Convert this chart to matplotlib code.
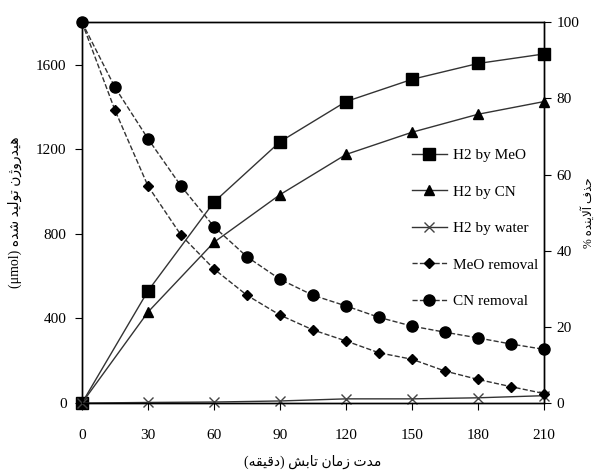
import matplotlib
matplotlib.use('Agg')
import matplotlib.pyplot as plt

# time (min)
t_h2 = [0, 30, 60, 90, 120, 150, 180, 210]
h2_meo = [0, 530, 950, 1235, 1425, 1530, 1605, 1650]
h2_cn = [0, 430, 760, 985, 1175, 1280, 1365, 1425]
h2_water = [0, 3, 5, 10, 20, 20, 25, 35]

t_rem = [0, 15, 30, 45, 60, 75, 90, 105, 120, 135, 150, 165, 180, 195, 210]
meo_removal = [100, 76.9, 57.0, 44.1, 35.2, 28.3, 23.1, 19.2, 16.3, 13.2,
               11.5, 8.4, 6.2, 4.3, 2.5]
cn_removal = [100, 82.9, 69.4, 57.0, 46.3, 38.4, 32.5, 28.3, 25.5, 22.5,
              20.2, 18.6, 17.1, 15.5, 14.1]

xticks = [0, 30, 60, 90, 120, 150, 180, 210]
yticks_left = [0, 400, 800, 1200, 1600]
yticks_right = [0, 20, 40, 60, 80, 100]

xlabel = 'مدت زمان تابش (دقیقه)'
ylabel_left = 'هیدروژن تولید شده'
ylabel_right = 'حذف آلاینده %'

# minimal arabic/persian shaping: isolated, final, initial, medial
FORMS = {
    'ا': ('\uFE8D', '\uFE8E', None, None),
    'آ': ('\uFE81', '\uFE82', None, None),
    'ب': ('\uFE8F', '\uFE90', '\uFE91', '\uFE92'),
    'ت': ('\uFE95', '\uFE96', '\uFE97', '\uFE98'),
    'ح': ('\uFEA1', '\uFEA2', '\uFEA3', '\uFEA4'),
    'د': ('\uFEA9', '\uFEAA', None, None),
    'ذ': ('\uFEAB', '\uFEAC', None, None),
    'ر': ('\uFEAD', '\uFEAE', None, None),
    'ز': ('\uFEAF', '\uFEB0', None, None),
    'ژ': ('\uFB8A', '\uFB8B', None, None),
    'ش': ('\uFEB5', '\uFEB6', '\uFEB7', '\uFEB8'),
    'ف': ('\uFED1', '\uFED2', '\uFED3', '\uFED4'),
    'ق': ('\uFED5', '\uFED6', '\uFED7', '\uFED8'),
    'ل': ('\uFEDD', '\uFEDE', '\uFEDF', '\uFEE0'),
    'م': ('\uFEE1', '\uFEE2', '\uFEE3', '\uFEE4'),
    'ن': ('\uFEE5', '\uFEE6', '\uFEE7', '\uFEE8'),
    'ه': ('\uFEE9', '\uFEEA', '\uFEEB', '\uFEEC'),
    'و': ('\uFEED', '\uFEEE', None, None),
    'ی': ('\uFBFC', '\uFBFD', '\uFBFE', '\uFBFF'),
}
LAM_ALEF = {'ا': ('\uFEFB', '\uFEFC'), 'آ': ('\uFEF5', '\uFEF6')}


def dual(c):
    return c in FORMS and FORMS[c][2] is not None


def rtl(text):
    out = []
    i = 0
    while i < len(text):
        c = text[i]
        prev_j = i > 0 and dual(text[i - 1])
        if c not in FORMS:
            out.append(c)
            i += 1
            continue
        if c == 'ل' and i + 1 < len(text) and text[i + 1] in LAM_ALEF:
            out.append(LAM_ALEF[text[i + 1]][1 if prev_j else 0])
            i += 2
            continue
        next_j = dual(c) and i + 1 < len(text) and text[i + 1] in FORMS
        iso, fin, ini, med = FORMS[c]
        if prev_j and next_j:
            out.append(med)
        elif prev_j:
            out.append(fin)
        elif next_j:
            out.append(ini)
        else:
            out.append(iso)
        i += 1
    swap = {'(': ')', ')': '('}
    return ''.join(swap.get(c, c) for c in reversed(out))


plt.rcParams['font.family'] = ['Liberation Serif', 'DejaVu Sans']
plt.rcParams['font.size'] = 11

fig = plt.figure(figsize=(5.98, 4.72), dpi=100)
ax = fig.add_axes([0.137, 0.146, 0.773, 0.807])
ax2 = ax.twinx()

line_col = '#333333'
ax.plot(t_h2, h2_meo, '-', color=line_col, lw=1, marker='s', ms=8.5,
        mfc='black', mec='black', label='H2 by MeO', clip_on=False, zorder=3)
ax.plot(t_h2, h2_cn, '-', color=line_col, lw=1, marker='^', ms=7.5,
        mfc='black', mec='black', label='H2 by CN', clip_on=False, zorder=3)
ax.plot(t_h2, h2_water, '-', color=line_col, lw=1, marker='x', ms=7,
        mfc='black', mec='#444444', label='H2 by water', clip_on=False, zorder=3)

ax2.plot(t_rem, meo_removal, '--', color=line_col, lw=1, marker='D', ms=5,
         mfc='black', mec='black', label='MeO removal', clip_on=False)
ax2.plot(t_rem, cn_removal, '--', color=line_col, lw=1, marker='o', ms=8,
         mfc='black', mec='black', label='CN removal', clip_on=False)

ax.set_xlim(0, 210)
ax.set_ylim(0, 1800)
ax2.set_ylim(0, 100)
ax.set_xticks(xticks)
ax.set_yticks(yticks_left)
ax2.set_yticks(yticks_right)

ax.tick_params(axis='x', direction='out', length=5, pad=14, labelsize=11)
ax.tick_params(axis='y', direction='out', length=5, pad=6, labelsize=11)
ax2.tick_params(axis='y', direction='out', length=5, pad=4, labelsize=11)
for a in (ax, ax2):
    for s in a.spines.values():
        s.set_linewidth(1)
        s.set_color('black')

ax.set_xlabel(rtl(xlabel), fontsize=10, labelpad=9)
ax.set_ylabel('(μmol) ' + rtl(ylabel_left), fontsize=10, labelpad=10)
ax2.set_ylabel(rtl(ylabel_right), fontsize=8.5, labelpad=1)

h1, l1 = ax.get_legend_handles_labels()
h2, l2 = ax2.get_legend_handles_labels()
ax2.legend(h1 + h2, l1 + l2, loc='upper left', bbox_to_anchor=(0.7, 0.685),
           frameon=False, handlelength=2.3, handletextpad=0.4,
           labelspacing=1.5, fontsize=11, borderaxespad=0)

fig.savefig('out.png', dpi=100)
